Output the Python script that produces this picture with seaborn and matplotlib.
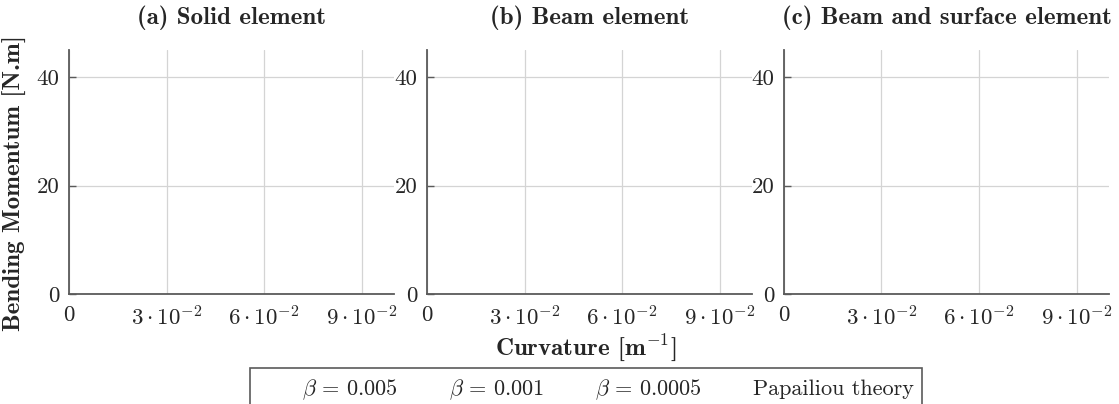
import matplotlib
matplotlib.use("Agg")
import matplotlib.pyplot as plt
import seaborn as sns

# ---- data -------------------------------------------------------------
panel_titles = ["(a) Solid element", "(b) Beam element", "(c) Beam and surface element"]
series_labels = [r"$\beta\,=\,0.005$", r"$\beta\,=\,0.001$", r"$\beta\,=\,0.0005$", "Papailiou theory"]
# the reference panels show no visible curves: every series is empty
curvature = []          # [m^-1]
moment_beta_0005 = []   # [N.m]
moment_beta_0001 = []
moment_beta_00005 = []
moment_papailiou = []
series_values = [moment_beta_0005, moment_beta_0001, moment_beta_00005, moment_papailiou]

x_ticks = [0, 0.03, 0.06, 0.09]
x_tick_labels = ["0", r"$3\cdot10^{-2}$", r"$6\cdot10^{-2}$", r"$9\cdot10^{-2}$"]
y_ticks = [0, 20, 40]
y_tick_labels = ["0", "20", "40"]
x_limits = (0, 0.1)
y_limits = (0, 45)

# ---- style ------------------------------------------------------------
sns.set_theme(style="whitegrid")
plt.rcParams["font.family"] = ["cmr10", "DejaVu Serif"]
plt.rcParams["mathtext.fontset"] = "cm"
plt.rcParams["axes.unicode_minus"] = False
plt.rcParams["axes.formatter.use_mathtext"] = True

W, H = 1119, 404
fig = plt.figure(figsize=(W / 100, H / 100), dpi=100)

text_col = "#262626"
spine_col = "#5a5a5a"
grid_col = "#d4d4d4"
fs = 16
fs_tick = 16.5
fs_bold = 18

lefts = [69, 427, 784]
ax_w = 325
ax_top, ax_bot = 50, 294
axes = []
for i, lp in enumerate(lefts):
    ax = fig.add_axes([lp / W, (H - ax_bot) / H, ax_w / W, (ax_bot - ax_top) / H])
    axes.append(ax)
    for vals, lab in zip(series_values, series_labels):
        ax.plot(curvature, vals, label=lab)
    ax.set_xlim(*x_limits)
    ax.set_ylim(*y_limits)
    ax.set_xticks(x_ticks)
    ax.set_xticklabels(x_tick_labels)
    ax.set_yticks(y_ticks)
    ax.set_yticklabels(y_tick_labels)
    ax.set_facecolor("white")
    ax.grid(True, color=grid_col, linewidth=0.9)
    sns.despine(ax=ax)
    for s in ["left", "bottom"]:
        ax.spines[s].set_color(spine_col)
        ax.spines[s].set_linewidth(1.3)
    ax.tick_params(axis="y", direction="in", length=5, width=1.0, color=spine_col,
                   labelsize=fs_tick, labelcolor=text_col, pad=7, left=True)
    ax.tick_params(axis="x", length=0, labelsize=fs_tick, labelcolor=text_col, pad=8)
    ax.set_title(panel_titles[i], fontfamily="cmb10", fontsize=fs_bold, color=text_col, pad=19)

fig.text(15 / W, (H - 183) / H, "Bending Momentum [N.m]", rotation=90, ha="center",
         va="center", fontfamily="cmb10", fontsize=fs_bold, color=text_col)
fig.text(586 / W, (H - 348) / H, r"Curvature [$\mathbf{m}^{\mathbf{-1}}$]", ha="center",
         va="center", fontfamily="cmb10", fontsize=fs_bold, color=text_col)

handles, labels = axes[0].get_legend_handles_labels()
leg = fig.legend(handles, labels, loc="upper center", bbox_to_anchor=(586 / W, (H - 368) / H),
                 ncol=4, fontsize=fs, frameon=True, fancybox=False, framealpha=1,
                 edgecolor=spine_col, handlelength=1.5, handletextpad=0.45,
                 columnspacing=0.35, borderpad=0.4, borderaxespad=0)
leg.get_frame().set_linewidth(1.2)
for h in leg.legend_handles:
    h.set_visible(False)
for t in leg.get_texts():
    t.set_color(text_col)

fig.savefig("out.png", dpi=100)
